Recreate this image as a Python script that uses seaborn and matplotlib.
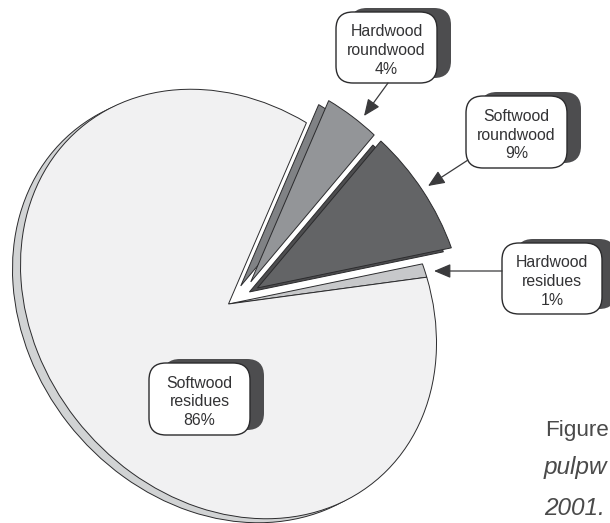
import matplotlib
matplotlib.use('Agg')
import matplotlib.pyplot as plt
from matplotlib.patches import FancyBboxPatch
from matplotlib.transforms import Affine2D
import seaborn as sns

names = ['Hardwood\nresidues', 'Softwood\nroundwood', 'Hardwood\nroundwood', 'Softwood\nresidues']
shares = [1, 9, 4, 86]
explode = [0, 0.175, 0.17, 0]
nudge_x = [0, 0, 5, 0]
nudge_y = [0, 1, 6, 0]
face_colors = ['#c7c8ca', '#636466', '#939598', '#f1f1f2']
depth_colors = ['#c7c8ca', '#4d4d4f', '#808285', '#d1d3d4']
depth_x = [-5, -8, -10, -8]
depth_y = [3, 4, 4, 4]

# label box: left, top, right, bottom in pixels
boxes = [(502, 243, 602, 314), (466, 96, 567, 168), (336, 12, 437, 83), (149, 363, 250, 435)]
# arrows go from box to slice
arrows = [((502, 271), (434, 271)), ((468, 160), (428, 186)), ((388, 83), (364, 116))]

ink = '#2b2b2d'
sns.set_theme(style='white')
plt.rcParams['font.family'] = ['Liberation Sans', 'DejaVu Sans']

fig, ax = plt.subplots(figsize=(6.1, 5.23), dpi=100)
fig.subplots_adjust(0, 0, 1, 1)


def tilt(dx=0, dy=0):
    # squash the unit pie into the tilted ellipse, y is flipped because pixels run downwards
    return (Affine2D().rotate_deg(50).scale(230, 191).rotate_deg(-50)
            .scale(1, -1).translate(228.5 + dx, 304 + dy) + ax.transData)


low, _ = ax.pie(shares, explode=explode, colors=depth_colors, startangle=12.3, radius=1,
                wedgeprops=dict(edgecolor=ink, linewidth=0.7))
for i, w in enumerate(low):
    w.set_transform(tilt(nudge_x[i] + depth_x[i], nudge_y[i] + depth_y[i]))
    w.set_clip_on(False)
    w.set_zorder(1)

top, _ = ax.pie(shares, explode=explode, colors=face_colors, startangle=12.3, radius=1,
                wedgeprops=dict(edgecolor=ink, linewidth=0.7))
for i, w in enumerate(top):
    w.set_transform(tilt(nudge_x[i], nudge_y[i]))
    w.set_clip_on(False)
    w.set_zorder(2)

ax.set_aspect('auto')
ax.set_xlim(0, 610)
ax.set_ylim(523, 0)
ax.axis('off')

for name, share, (x0, y0, x1, y1) in zip(names, shares, boxes):
    back = FancyBboxPatch((x0 + 14, y0 - 4), x1 - x0, y1 - y0 - 1, boxstyle='round,pad=0,rounding_size=17',
                          fc='#4d4d4f', ec='none', zorder=3)
    ax.add_patch(back)
    front = FancyBboxPatch((x0, y0), x1 - x0, y1 - y0, boxstyle='round,pad=0,rounding_size=17',
                           fc='white', ec=ink, lw=1, zorder=4)
    ax.add_patch(front)
    ax.text((x0 + x1) / 2, (y0 + y1) / 2 + 3, f'{name}\n{share}%', ha='center', va='center',
            fontsize=11.4, linespacing=1.33, color='#333335', zorder=5)

for start, end in arrows:
    ax.annotate('', xy=end, xytext=start, zorder=5,
                arrowprops=dict(arrowstyle='-|>,head_length=0.85,head_width=0.36', color='#3a3a3c', lw=0.9,
                                shrinkA=0, shrinkB=0))

ax.text(545, 436, 'Figure', fontsize=16.2, color='#4a4a4a', va='baseline', ha='left')
ax.text(544, 474, 'pulpw', fontsize=17.6, style='italic', color='#4a4a4a', va='baseline', ha='left')
ax.text(544, 515, '2001.', fontsize=17.6, style='italic', color='#4a4a4a', va='baseline', ha='left')

fig.savefig('out.png', dpi=100)
